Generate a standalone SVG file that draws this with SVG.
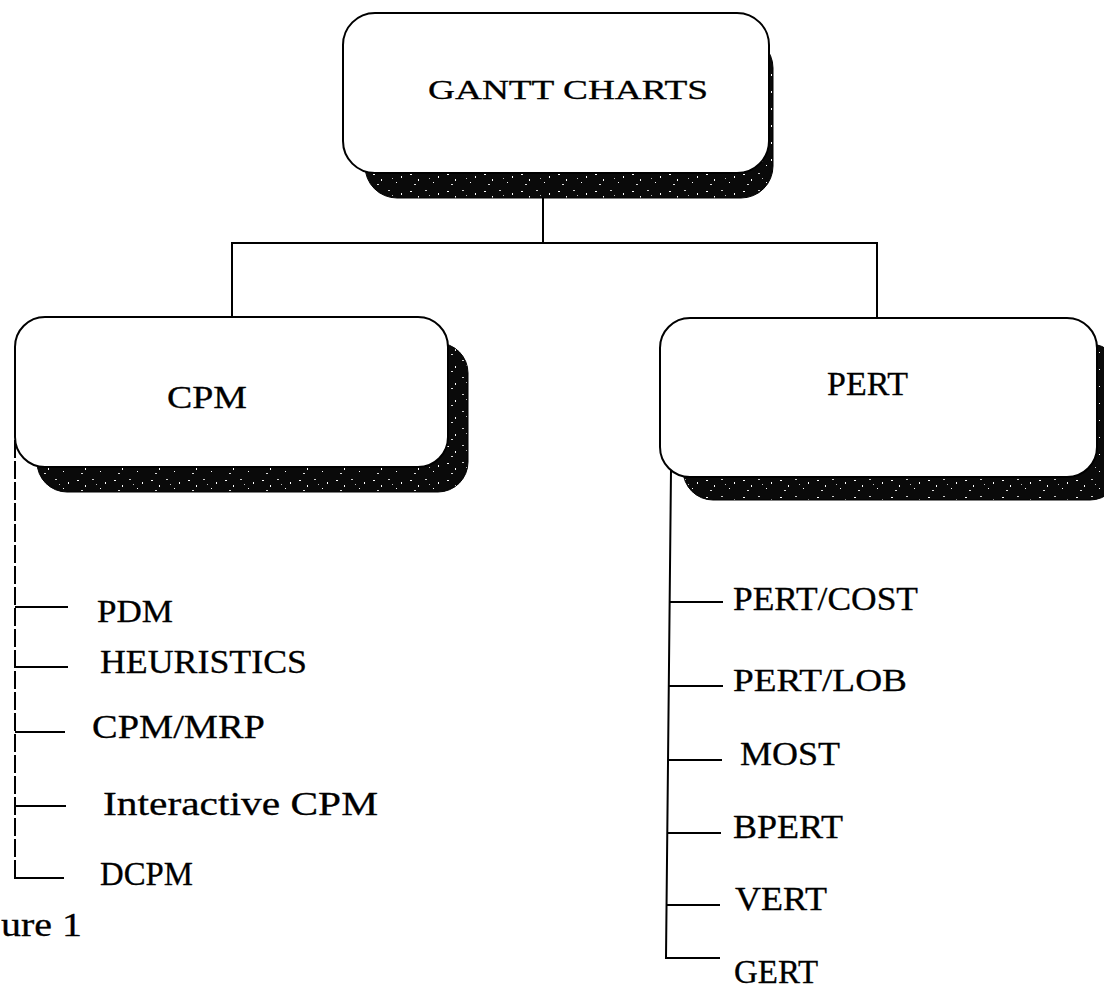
<svg xmlns="http://www.w3.org/2000/svg" width="1104" height="991" viewBox="0 0 1104 991">
  <defs>
    <!-- speckled dark fill used for the drop shadows -->
    <pattern id="stipple" width="37" height="17" patternUnits="userSpaceOnUse">
      <rect width="37" height="17" fill="#0a0a0a"/>
      <rect x="3" y="4" width="2" height="1" fill="#fff"/>
      <rect x="11" y="9" width="1" height="2" fill="#fff"/>
      <rect x="18" y="3" width="2" height="1" fill="#ccc"/>
      <rect x="26" y="12" width="1" height="1" fill="#fff"/>
      <rect x="7" y="14" width="2" height="1" fill="#ddd"/>
      <rect x="31" y="6" width="1" height="2" fill="#fff"/>
      <rect x="22" y="8" width="1" height="1" fill="#bbb"/>
    </pattern>
    <style>
      .box { fill: #fff; stroke: #000; stroke-width: 2; }
      .shadow { fill: url(#stipple); stroke: #000; stroke-width: 1; }
      .wire { fill: none; stroke: #000; stroke-width: 2; }
      .dash { stroke-dasharray: 18 3; }
      .lbl { font-family: "Liberation Serif", "Times New Roman", serif; fill: #000; stroke: #000; stroke-width: 0.3; }
    </style>
  </defs>
  <rect width="1104" height="991" fill="#fff"/>

  <!-- connectors -->
  <g id="connectors">
    <path class="wire" d="M543 198 V244"/>
    <path class="wire" d="M232 316 V243 H877 V319"/>
    <path class="wire dash" d="M15 440 V878"/>
    <path class="wire" d="M15 607 H68 M15 667 H68 M15 732 H65 M15 806 H66 M14 878 H64"/>
    <path class="wire" d="M671 470 L666 958 H720"/>
    <path class="wire" d="M670 602 H723 M669 686 H723 M668 760 H722 M668 833 H721 M667 905 H720"/>
  </g>

  <g id="gantt">
    <rect class="shadow" x="365" y="36" width="408" height="162" rx="32"/>
    <rect class="box" x="343" y="13" width="426" height="160" rx="32"/>
    <text class="lbl" x="428" y="99" font-size="27" textLength="280" lengthAdjust="spacingAndGlyphs">GANTT CHARTS</text>
  </g>

  <g id="cpm">
    <rect class="shadow" x="37" y="343" width="431" height="149" rx="30"/>
    <rect class="box" x="15" y="317" width="433" height="150" rx="30"/>
    <text class="lbl" x="167" y="408" font-size="32" textLength="80" lengthAdjust="spacingAndGlyphs">CPM</text>
  </g>

  <g id="pert">
    <rect class="shadow" x="683" y="344" width="437" height="156" rx="30"/>
    <rect class="box" x="660" y="318" width="437" height="159" rx="30"/>
    <text class="lbl" x="827" y="395" font-size="34" textLength="81" lengthAdjust="spacingAndGlyphs">PERT</text>
  </g>

  <g id="cpm-items">
    <text id="pdm" class="lbl" x="97" y="622" font-size="31" textLength="76" lengthAdjust="spacingAndGlyphs">PDM</text>
    <text id="heuristics" class="lbl" x="100" y="673" font-size="34" textLength="207" lengthAdjust="spacingAndGlyphs">HEURISTICS</text>
    <text id="cpm-mrp" class="lbl" x="92" y="738" font-size="34" textLength="173" lengthAdjust="spacingAndGlyphs">CPM/MRP</text>
    <text id="interactive-cpm" class="lbl" x="103" y="815" font-size="34" textLength="275" lengthAdjust="spacingAndGlyphs">Interactive CPM</text>
    <text id="dcpm" class="lbl" x="100" y="885" font-size="33" textLength="93" lengthAdjust="spacingAndGlyphs">DCPM</text>
  </g>

  <g id="pert-items">
    <text id="pert-cost" class="lbl" x="733" y="610" font-size="33" textLength="185" lengthAdjust="spacingAndGlyphs">PERT/COST</text>
    <text id="pert-lob" class="lbl" x="733" y="691" font-size="32" textLength="174" lengthAdjust="spacingAndGlyphs">PERT/LOB</text>
    <text id="most" class="lbl" x="740" y="765" font-size="33" textLength="100" lengthAdjust="spacingAndGlyphs">MOST</text>
    <text id="bpert" class="lbl" x="733" y="838" font-size="34" textLength="110" lengthAdjust="spacingAndGlyphs">BPERT</text>
    <text id="vert" class="lbl" x="735" y="910" font-size="34" textLength="92" lengthAdjust="spacingAndGlyphs">VERT</text>
    <text id="gert" class="lbl" x="734" y="983" font-size="34" textLength="84" lengthAdjust="spacingAndGlyphs">GERT</text>
  </g>

  <text id="caption" class="lbl" x="1" y="936" font-size="33" textLength="81" lengthAdjust="spacingAndGlyphs">ure 1</text>
</svg>
